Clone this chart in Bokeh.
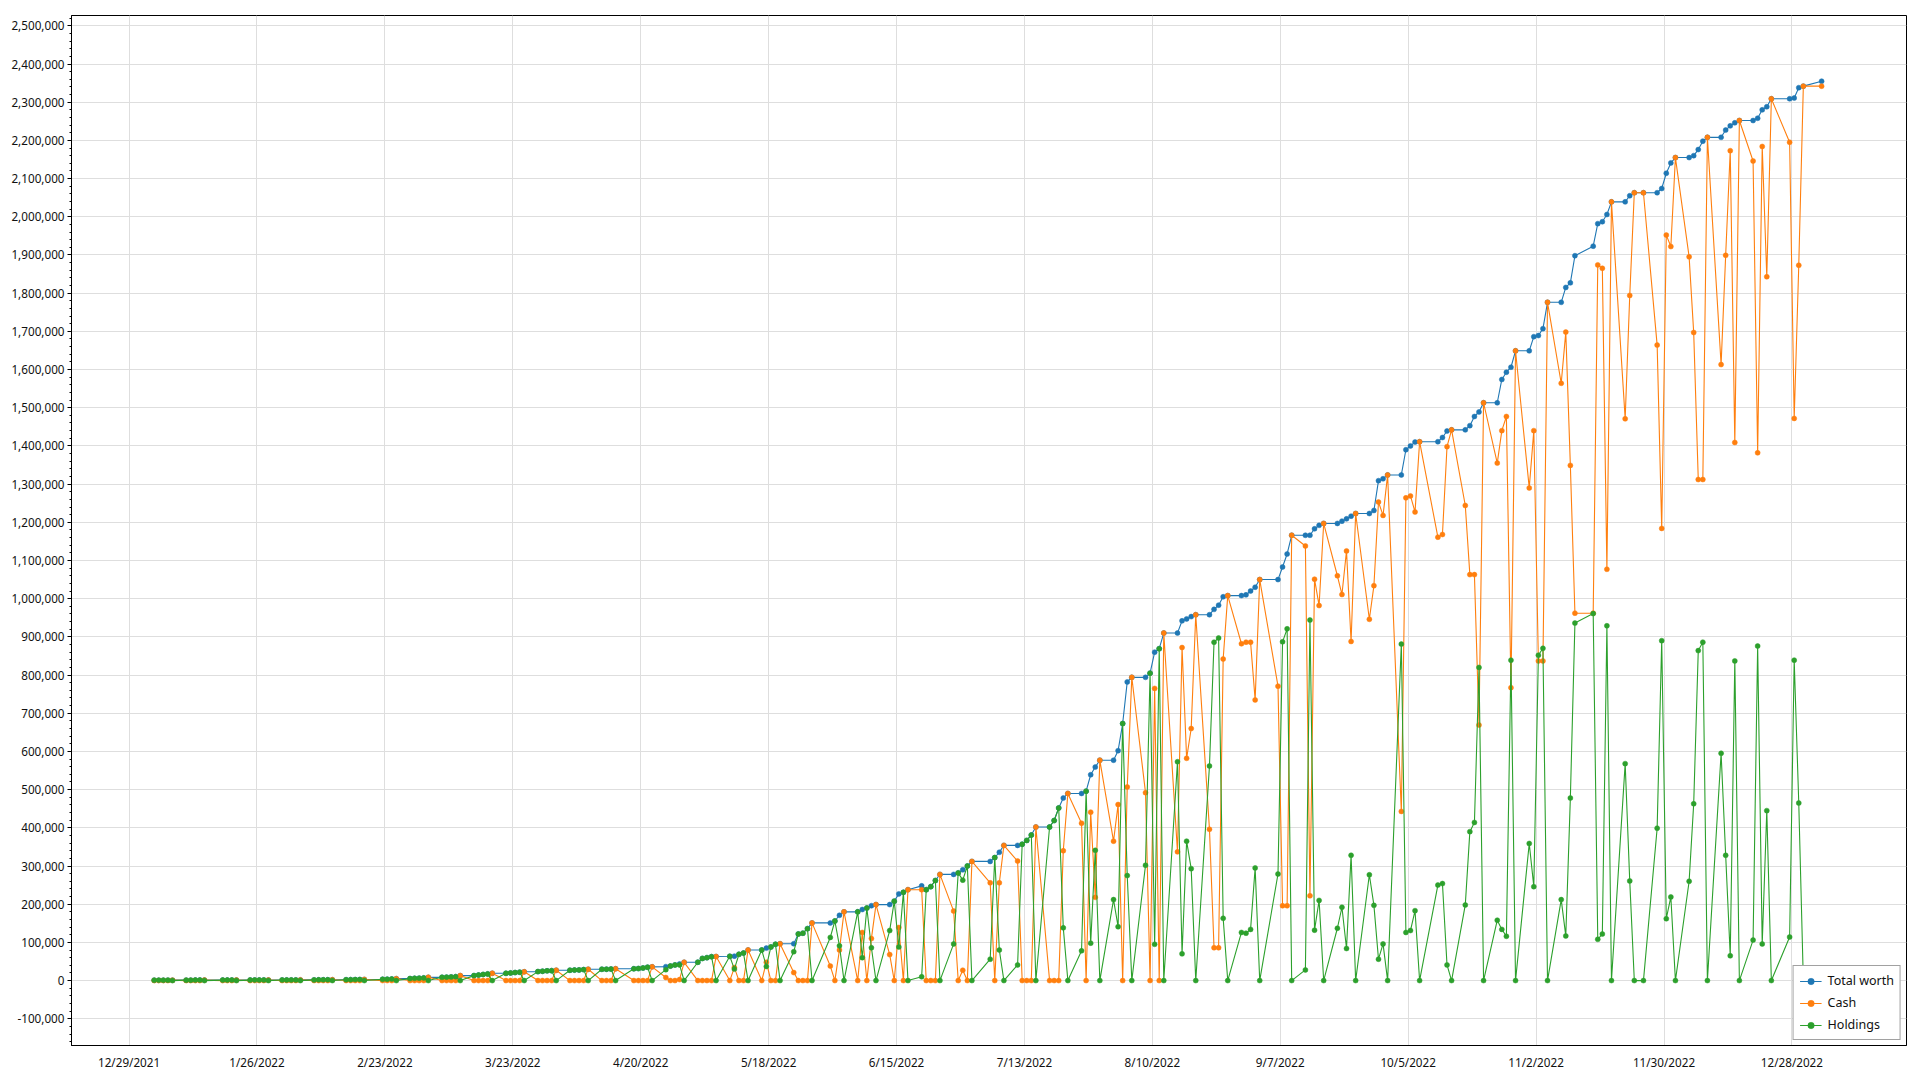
from datetime import datetime, timedelta
import pandas as pd
from bokeh.plotting import figure
from bokeh.models import (ColumnDataSource, Legend, LegendItem, FixedTicker,
                          NumeralTickFormatter, CustomJSTickFormatter, Range1d)
from bokeh.embed import file_html
from bokeh.resources import INLINE

# ---------------- data ----------------
first_day = "2022-01-03"
last_day = "2023-01-03"
closed_days = ["2022-01-17", "2022-02-21", "2022-04-15", "2022-05-30", "2022-07-04",
               "2022-09-05", "2022-10-10", "2022-11-11", "2022-11-24", "2022-12-26",
               "2023-01-02"]

# values in thousands
total_k = [
    1.0, 1.0, 1.0, 1.1, 1.1,
    1.1, 1.1, 1.2, 1.2, 1.2,
    1.2, 1.3, 1.3, 1.3,
    1.3, 1.4, 1.4, 1.5, 1.5,
    1.5, 1.6, 1.6, 1.7, 1.8,
    1.8, 1.9, 2.0, 2.1, 2.2,
    2.2, 2.4, 2.5, 2.7, 2.9,
    3.2, 3.5, 4.0, 5.0,
    5.2, 5.8, 6.3, 7.0, 8.5,
    8.5, 9.0, 9.5, 10.2, 13.0,
    13.0, 14.5, 16.0, 17.5, 19.0,
    19.0, 20.0, 21.0, 22.0, 23.0,
    23.5, 24.5, 25.5, 26.0, 27.0,
    27.0, 27.5, 28.0, 28.7, 29.6,
    29.6, 29.8, 30.0, 31.0,
    31.0, 31.5, 33.0, 35.0, 36.0,
    36.5, 38, 41, 43.5, 47.8,
    48, 58, 60, 62.6, 63,
    63.5, 64, 68.7, 72, 80,
    80, 85, 88, 95, 96.5,
    96.5, 122, 124, 136, 151,
    151, 156, 171, 180,
    180, 186, 190, 196, 199,
    199, 208, 227, 231, 238,
    248, 238, 246, 262, 278,
    278, 282, 290, 300, 312,
    312, 322, 336, 354,
    354, 357, 367, 381, 402,
    402, 419, 452, 478, 490,
    490, 496, 539, 559, 577,
    577, 602, 673, 782, 794,
    794, 805, 860, 869, 910,
    910, 942, 947, 953, 958,
    958, 972, 983, 1005, 1008,
    1008, 1010, 1020, 1030, 1050,
    1050, 1083, 1117, 1166,
    1166, 1166, 1183, 1192, 1197,
    1197, 1203, 1209, 1216, 1223,
    1223, 1231, 1309, 1314, 1324,
    1324, 1390, 1400, 1410, 1411,
    1411, 1422, 1439, 1442,
    1442, 1453, 1477, 1489, 1513,
    1513, 1574, 1593, 1606, 1649,
    1649, 1686, 1689, 1707, 1776,
    1776, 1815, 1827, 1898,
    1923, 1982, 1987, 2006, 2039,
    2039, 2055, 2063, 2063,
    2063, 2074, 2114, 2141, 2155,
    2155, 2160, 2176, 2198, 2208,
    2208, 2227, 2238, 2246, 2252,
    2252, 2258, 2280, 2288, 2309,
    2309, 2311, 2338, 2342,
    2355,
]

cash_k = [
    0, 0, 0, 0, 1.1,
    0, 0, 0, 0, 1.2,
    0, 0, 0, 1.3,
    0, 0, 0, 0, 1.5,
    0, 0, 0, 0, 1.8,
    0, 0, 0, 0, 2.2,
    0, 0, 0, 0, 2.9,
    0, 0, 0, 5.0,
    0, 0, 0, 0, 8.5,
    0, 0, 0, 0, 13.0,
    0, 0, 0, 0, 19.0,
    0, 0, 0, 0, 23.0,
    0, 0, 0, 0, 27.0,
    0, 0, 0, 0, 29.6,
    0, 0, 0, 31.0,
    0, 0, 0, 0, 36.0,
    8, 0, 0, 2.5, 47.8,
    0, 0, 0, 0, 63,
    0, 34, 0, 0, 80,
    0, 48, 0, 0, 96.5,
    21, 0, 0, 0, 151,
    38, 0, 80, 180,
    0, 126, 0, 110, 199,
    68, 0, 139, 0, 238,
    238, 0, 0, 0, 278,
    182, 0, 27, 0, 312,
    256, 0, 256, 354,
    313, 0, 0, 0, 402,
    0, 0, 0, 340, 490,
    412, 0, 441, 218, 577,
    365, 461, 0, 507, 794,
    492, 0, 765, 0, 910,
    337, 872, 582, 660, 958,
    396, 86, 86, 842, 1008,
    882, 886, 886, 735, 1050,
    771, 196, 196, 1166,
    1138, 222, 1051, 982, 1197,
    1060, 1011, 1125, 888, 1223,
    946, 1034, 1253, 1218, 1324,
    443, 1264, 1269, 1227, 1411,
    1161, 1168, 1398, 1442,
    1244, 1063, 1063, 669, 1513,
    1355, 1440, 1477, 767, 1649,
    1290, 1440, 837, 837, 1776,
    1564, 1698, 1349, 962,
    962, 1874, 1865, 1077, 2039,
    1471, 1794, 2063, 2063,
    1664, 1184, 1952, 1922, 2155,
    1895, 1697, 1312, 1312, 2208,
    1613, 1899, 2173, 1409, 2252,
    2146, 1382, 2184, 1843, 2309,
    2195, 1472, 1873, 2342,
    2342,
]

holdings_k = [
    1.0, 1.0, 1.0, 1.1, 0,
    1.1, 1.1, 1.2, 1.2, 0,
    1.2, 1.3, 1.3, 0,
    1.3, 1.4, 1.4, 1.5, 0,
    1.5, 1.6, 1.6, 1.7, 0,
    1.8, 1.9, 2.0, 2.1, 0,
    2.2, 2.4, 2.5, 2.7, 0,
    3.2, 3.5, 4.0, 0,
    5.2, 5.8, 6.3, 7.0, 0,
    8.5, 9.0, 9.5, 10.2, 0,
    13.0, 14.5, 16.0, 17.5, 0,
    19.0, 20.0, 21.0, 22.0, 0,
    23.5, 24.5, 25.5, 26.0, 0,
    27.0, 27.5, 28.0, 28.7, 0,
    29.6, 29.8, 30.0, 0,
    31.0, 31.5, 33.0, 35.0, 0,
    28.5, 38, 41, 41, 0,
    48, 58, 60, 62.6, 0,
    63.5, 30, 68.7, 72, 0,
    80, 37, 88, 95, 0,
    75.5, 122, 124, 136, 0,
    113, 156, 91, 0,
    180, 60, 190, 86, 0,
    131, 208, 88, 231, 0,
    10, 238, 246, 262, 0,
    96, 282, 263, 300, 0,
    56, 322, 80, 0,
    41, 357, 367, 381, 0,
    402, 419, 452, 138, 0,
    78, 496, 98, 341, 0,
    212, 141, 673, 275, 0,
    302, 805, 95, 869, 0,
    573, 70, 365, 293, 0,
    562, 886, 897, 163, 0,
    126, 124, 134, 295, 0,
    279, 887, 921, 0,
    28, 944, 132, 210, 0,
    137, 192, 84, 328, 0,
    277, 197, 56, 96, 0,
    881, 126, 131, 183, 0,
    250, 254, 41, 0,
    198, 390, 414, 820, 0,
    158, 134, 116, 839, 0,
    359, 246, 852, 870, 0,
    212, 117, 478, 936,
    961, 108, 122, 929, 0,
    568, 261, 0, 0,
    399, 890, 162, 219, 0,
    260, 463, 864, 886, 0,
    595, 328, 65, 837, 0,
    106, 876, 96, 445, 0,
    114, 839, 465, 0,
    13,
]

x_tick_labels = ["12/29/2021", "1/26/2022", "2/23/2022", "3/23/2022", "4/20/2022",
                 "5/18/2022", "6/15/2022", "7/13/2022", "8/10/2022", "9/7/2022",
                 "10/5/2022", "11/2/2022", "11/30/2022", "12/28/2022"]

series_names = ["Total worth", "Cash", "Holdings"]
series_colors = ["#1f77b4", "#ff7f0e", "#2ca02c"]

# ---------------- build ----------------
days = pd.bdate_range(first_day, last_day)
days = days[~days.isin(pd.to_datetime(closed_days))]
dates = [d.to_pydatetime() + timedelta(hours=12) for d in days]
assert len(dates) == len(total_k) == len(cash_k) == len(holdings_k), (
    len(dates), len(total_k), len(cash_k), len(holdings_k))

src = ColumnDataSource(dict(
    date=dates,
    total=[v * 1000 for v in total_k],
    cash=[v * 1000 for v in cash_k],
    holdings=[v * 1000 for v in holdings_k],
))

FONT = "Noto Sans"

p = figure(width=1912, height=1072, x_axis_type="datetime",
           output_backend="svg", toolbar_location=None,
           x_range=Range1d(datetime(2021, 12, 16, 9, 30), datetime(2023, 1, 22, 2, 0)),
           y_range=Range1d(-170000, 2527000),
           min_border_left=71, min_border_top=15, min_border_right=6,
           min_border_bottom=24)
p.background_fill_color = "white"
p.border_fill_color = "white"
p.outline_line_color = "black"
p.outline_line_width = 1

# axes
tick_ms = [pd.Timestamp(datetime.strptime(s, "%m/%d/%Y")).value // 10**6 for s in x_tick_labels]
p.xaxis.ticker = FixedTicker(ticks=tick_ms, minor_ticks=[])
p.xaxis.formatter = CustomJSTickFormatter(code="""
const d = new Date(tick);
return (d.getUTCMonth()+1) + '/' + d.getUTCDate() + '/' + d.getUTCFullYear();
""")
p.yaxis.ticker = FixedTicker(ticks=list(range(-100000, 2500001, 100000)),
                             minor_ticks=list(range(-160000, 2520001, 20000)))
p.yaxis.formatter = NumeralTickFormatter(format="0,0")

for ax in (p.xaxis, p.yaxis):
    ax.axis_line_color = "black"
    ax.axis_line_width = 1
    ax.major_label_text_font = FONT
    ax.major_label_text_font_size = "11.7px"
    ax.major_label_text_color = "#111111"
    ax.major_tick_line_color = "black"
    ax.minor_tick_line_color = "black"
    ax.major_tick_in = 0
    ax.minor_tick_in = 0

p.xaxis.major_tick_out = 0
p.xaxis.minor_tick_out = 0
p.xaxis.major_label_standoff = 8
p.yaxis.major_tick_out = 4
p.yaxis.minor_tick_out = 2
p.yaxis.major_label_standoff = 3

p.xgrid.grid_line_color = "#dedede"
p.ygrid.grid_line_color = "#dedede"
p.xgrid.grid_line_width = 1
p.ygrid.grid_line_width = 1

# series
items = []
for name, col, color in zip(series_names, ["total", "cash", "holdings"], series_colors):
    ln = p.line("date", col, source=src, line_color=color, line_width=1.1)
    sc = p.scatter("date", col, source=src, size=5, marker="circle",
                   fill_color=color, line_color=color, line_width=0.5)
    items.append(LegendItem(label=name, renderers=[ln, sc]))

legend = Legend(items=items, location="bottom_right")
legend.label_text_font = FONT
legend.label_text_font_size = "12.5px"
legend.label_text_color = "#111111"
legend.border_line_color = "#444444"
legend.border_line_width = 1
legend.background_fill_color = "white"
legend.background_fill_alpha = 1
legend.glyph_width = 22
legend.glyph_height = 16
legend.label_height = 16
legend.spacing = 5
legend.padding = 6
legend.margin = 5
legend.label_standoff = 6
p.add_layout(legend)

open("out.html", "w").write(file_html(p, INLINE))
